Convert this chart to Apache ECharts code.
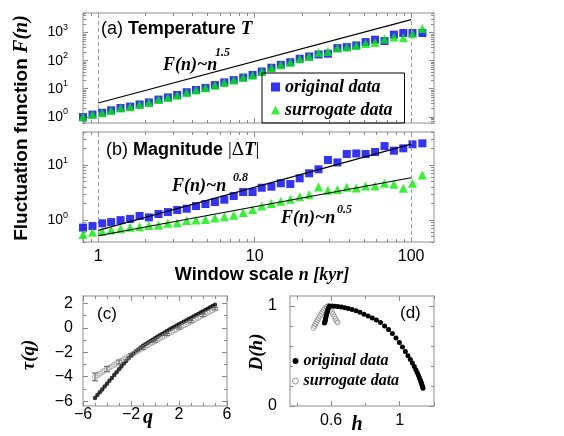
<!DOCTYPE html>
<html>
<head>
<meta charset="utf-8">
<script src="https://cdn.jsdelivr.net/npm/echarts@6.0.0/dist/echarts.min.js"></script>
<style>
html, body { margin: 0; padding: 0; background: #fff; }
#chart { width: 564px; height: 436px; }
</style>
</head>
<body>
<div id="chart"></div>
<script>
// window scale n [kyr] for panels (a) and (b)
const windowN = [0.8, 0.92, 1.06, 1.21, 1.39, 1.6, 1.84, 2.11, 2.43, 2.79,
  3.2, 3.68, 4.22, 4.85, 5.57, 6.4, 7.35, 8.45, 9.7, 11.1,
  12.8, 14.7, 16.9, 19.4, 22.3, 25.6, 29.4, 33.8, 38.8, 44.6,
  51.2, 58.8, 67.6, 77.6, 89.1, 102, 118];
// (a) temperature
const tempOrig = [0.97, 1.2, 1.39, 1.7, 2.05, 2.3, 2.75, 3.25, 4.1, 4.9,
  6.0, 7.5, 9.0, 10.7, 13.5, 16.8, 20.3, 25, 31, 41,
  56, 71, 88, 117, 141, 166, 177, 281, 305, 350,
  460, 560, 500, 850, 970, 970, 970];
const tempSurr = [1.0, 1.22, 1.4, 1.68, 2.05, 2.28, 2.75, 3.2, 4.1, 4.85,
  5.9, 7.4, 9.0, 10.8, 13.3, 16.6, 20.5, 25.5, 30, 41,
  56, 71, 88, 117, 141, 196, 213, 281, 305, 350,
  405, 440, 590, 700, 660, 920, 1390];
// (b) magnitude
const magOrig = [0.73, 0.78, 0.875, 0.92, 1.0, 1.05, 1.19, 1.12, 1.29, 1.4,
  1.53, 1.61, 1.8, 1.96, 2.13, 2.35, 2.74, 3.24, 3.24, 3.88,
  4.05, 4.67, 4.53, 5.75, 7.1, 8.4, 12.4, 11.2, 15.9, 16.3,
  15.9, 17.3, 22.2, 18.3, 20.2, 23.9, 24.9];
const magSurr = [0.55, 0.6, 0.62, 0.66, 0.70, 0.74, 0.76, 0.80, 0.81, 0.875,
  0.90, 0.98, 1.0, 1.03, 1.09, 1.15, 1.22, 1.38, 1.55, 1.8,
  2.0, 2.2, 2.4, 2.65, 2.9, 4.0, 3.5, 3.6, 3.95, 3.84,
  4.17, 4.17, 4.67, 4.47, 3.79, 4.67, 6.6];
// power law guide lines (end points)
const lawA15 = [[1, 3.1], [100, 2900]];
const lawB08 = [[1, 0.65], [100, 24]];
const lawB05 = [[1, 0.52], [100, 5.9]];

// (c) tau(q)
const qVals = [-5.0, -4.8, -4.6, -4.4, -4.2, -4.0, -3.8, -3.6, -3.4, -3.2,
  -3.0, -2.8, -2.6, -2.4, -2.2, -2.0, -1.8, -1.6, -1.4, -1.2,
  -1.0, -0.8, -0.6, -0.4, -0.2, 0.0, 0.2, 0.4, 0.6, 0.8,
  1.0, 1.2, 1.4, 1.6, 1.8, 2.0, 2.2, 2.4, 2.6, 2.8,
  3.0, 3.2, 3.4, 3.6, 3.8, 4.0, 4.2, 4.4, 4.6, 4.8, 5.0];
const tauOrig = [-5.75, -5.51, -5.28, -5.04, -4.81, -4.57, -4.34, -4.10, -3.87, -3.63,
  -3.40, -3.16, -2.93, -2.71, -2.49, -2.29, -2.10, -1.93, -1.77, -1.62,
  -1.48, -1.35, -1.22, -1.10, -0.98, -0.86, -0.74, -0.62, -0.50, -0.38,
  -0.27, -0.15, -0.04, 0.07, 0.18, 0.28, 0.39, 0.49, 0.60, 0.71,
  0.81, 0.92, 1.02, 1.13, 1.24, 1.34, 1.45, 1.56, 1.67, 1.78, 1.89];
const tauSurr = [-4.02, -3.89, -3.76, -3.63, -3.50, -3.38, -3.26, -3.15, -3.03, -2.92,
  -2.80, -2.69, -2.58, -2.47, -2.35, -2.24, -2.12, -2.01, -1.89, -1.78,
  -1.66, -1.55, -1.44, -1.32, -1.21, -1.10, -0.99, -0.88, -0.77, -0.66,
  -0.55, -0.44, -0.34, -0.23, -0.13, -0.02, 0.08, 0.19, 0.29, 0.40,
  0.50, 0.60, 0.71, 0.81, 0.92, 1.02, 1.13, 1.23, 1.34, 1.44, 1.55];
const errQ = [-5, -4, -3, -2, -1, 0, 1, 2, 3, 4, 5];
const errTau = [-4.02, -3.38, -2.80, -2.24, -1.66, -1.10, -0.55, -0.02, 0.50, 1.02, 1.55];
const errSize = [0.32, 0.22, 0.16, 0.12, 0.1, 0.08, 0.08, 0.08, 0.09, 0.1, 0.1];

// (d) D(h)
const hOrig = [0.561, 0.563, 0.565, 0.567, 0.569, 0.572, 0.575, 0.578, 0.581, 0.585,
  0.590, 0.605, 0.622, 0.640, 0.660, 0.680, 0.700, 0.722, 0.745, 0.768,
  0.792, 0.816, 0.840, 0.864, 0.888, 0.912, 0.935, 0.957, 0.978, 0.998,
  1.016, 1.033, 1.048, 1.062, 1.074, 1.085, 1.094, 1.102, 1.109, 1.115,
  1.120, 1.124, 1.128, 1.131, 1.134, 1.136];
const dOrig = [0.83, 0.838, 0.85, 0.865, 0.885, 0.905, 0.925, 0.945, 0.965, 0.985,
  1.0, 1.0, 0.998, 0.995, 0.99, 0.983, 0.975, 0.965, 0.952, 0.937,
  0.918, 0.9, 0.88, 0.86, 0.835, 0.80, 0.765, 0.725, 0.68, 0.635,
  0.59, 0.545, 0.503, 0.465, 0.429, 0.395, 0.363, 0.334, 0.307, 0.283,
  0.261, 0.241, 0.222, 0.205, 0.19, 0.177];
const hSurr = [0.497, 0.503, 0.509, 0.515, 0.521, 0.528, 0.535, 0.542, 0.549, 0.557,
  0.565, 0.573, 0.582, 0.590, 0.597, 0.604, 0.611, 0.618, 0.625, 0.632, 0.638];
const dSurr = [0.78, 0.80, 0.82, 0.84, 0.86, 0.88, 0.90, 0.92, 0.94, 0.96,
  0.975, 0.99, 1.0, 0.99, 0.97, 0.945, 0.92, 0.895, 0.87, 0.85, 0.835];

// ticks and tick labels
const nMajor = [1, 10, 100];
const nMinor = [0.8, 0.9, 2, 3, 4, 5, 6, 7, 8, 9, 20, 30, 40, 50, 60, 70, 80, 90];
const fMajorA = [1, 10, 100, 1000];
const fMinorA = [0.6, 0.7, 0.8, 0.9, 2, 3, 4, 5, 6, 7, 8, 9, 20, 30, 40, 50, 60, 70, 80, 90,
  200, 300, 400, 500, 600, 700, 800, 900, 2000, 3000, 4000, 5000];
const fMajorB = [1, 10];
const fMinorB = [0.4, 0.5, 0.6, 0.7, 0.8, 0.9, 2, 3, 4, 5, 6, 7, 8, 9, 20, 30, 40];
const qMajor = [-6, -2, 2, 6];
const qMinor = [-5, -4, -3, -1, 0, 1, 3, 4, 5];
const tauMajor = [-6, -4, -2, 0, 2];
const tauMinor = [-5, -3, -1, 1];
const hMajor = [0.6, 1];
const hMinor = [0.4, 0.8, 1.2];
const dMajor = [0, 1];
const dMinor = [0.2, 0.4, 0.6, 0.8];

const SANS = 'Liberation Sans';
const SERIF = 'Liberation Serif';
const FRAME = '#b4b4b4';
const TICK = '#8c8c8c';
const BLUE = '#0000f5';
const GREEN = '#00f000';

const zip = (a, b) => a.map((v, i) => [v, b[i]]);
const lg = arr => arr.map(v => Math.log10(v));

var myChart = echarts.init(document.getElementById('chart'));

// hidden axes that carry the data of each panel
let xAxes = [
  { type: 'log', gridIndex: 0, min: 0.8, max: 140, show: false },
  { type: 'log', gridIndex: 1, min: 0.8, max: 140, show: false },
  { type: 'value', gridIndex: 2, min: -6, max: 6, show: false },
  { type: 'value', gridIndex: 3, min: 0.36, max: 1.2, show: false }
];
let yAxes = [
  { type: 'log', gridIndex: 0, min: 0.6, max: 5000, show: false },
  { type: 'log', gridIndex: 1, min: 0.4, max: 40, show: false },
  { type: 'value', gridIndex: 2, min: -6.4, max: 2.6, show: false },
  { type: 'value', gridIndex: 3, min: 0, max: 1.1, show: false }
];

// box frame with inside ticks on all four sides
function frameAxes(dim, gridIndex, min, max, major, minor, labels, label) {
  const sides = dim === 'x' ? ['bottom', 'top'] : ['left', 'right'];
  const list = [];
  sides.forEach((position, i) => {
    list.push({
      type: 'value', gridIndex, position, min, max,
      axisLine: { show: true, onZero: false, lineStyle: { color: FRAME, width: 1.5 } },
      axisTick: { show: true, inside: true, length: 5, customValues: major, lineStyle: { color: TICK } },
      axisLabel: i === 0 && labels
        ? Object.assign({ show: true, customValues: labels, color: '#000', fontFamily: SANS, fontSize: 16 }, label)
        : { show: false },
      splitLine: { show: false }
    });
    list.push({
      type: 'value', gridIndex, position, min, max,
      axisLine: { show: false, onZero: false },
      axisTick: { show: true, inside: true, length: 3, customValues: minor, lineStyle: { color: TICK } },
      axisLabel: { show: false },
      splitLine: { show: false }
    });
  });
  return list;
}

const powLabel = {
  margin: 15,
  formatter: v => '{b|10}{s|' + Math.round(v) + '}',
  rich: {
    b: { fontFamily: SANS, fontSize: 14, color: '#000' },
    s: { fontFamily: SANS, fontSize: 9, color: '#000', padding: [0, 0, 10, 0] }
  }
};
const minus = v => String(v).replace('-', '\u2212');

xAxes = xAxes.concat(
  frameAxes('x', 0, Math.log10(0.8), Math.log10(140), lg(nMajor), lg(nMinor), null),
  frameAxes('x', 1, Math.log10(0.8), Math.log10(140), lg(nMajor), lg(nMinor), lg(nMajor),
    { margin: 7, formatter: v => String(Math.round(Math.pow(10, v))) }),
  frameAxes('x', 2, -6, 6, qMajor, qMinor, qMajor, { margin: 1, formatter: minus }),
  frameAxes('x', 3, 0.36, 1.2, hMajor, hMinor, hMajor, { margin: 7, formatter: v => String(v) })
);
yAxes = yAxes.concat(
  frameAxes('y', 0, Math.log10(0.6), Math.log10(5000), lg(fMajorA), lg(fMinorA), lg(fMajorA), powLabel),
  frameAxes('y', 1, Math.log10(0.4), Math.log10(40), lg(fMajorB), lg(fMinorB), lg(fMajorB), powLabel),
  frameAxes('y', 2, -6.4, 2.6, tauMajor, tauMinor, tauMajor, { margin: 10, formatter: minus }),
  frameAxes('y', 3, 0, 1.1, dMajor, dMinor, dMajor, { margin: 13, formatter: v => String(v) })
);

const dashed = {
  silent: true,
  symbol: ['none', 'none'],
  label: { show: false },
  lineStyle: { type: [4, 3], color: '#999', width: 1 },
  data: [{ xAxis: 1 }, { xAxis: 100 }]
};
const lawStyle = { color: '#000', width: 1.2 };

function txt(x, y, text, rich, extra) {
  return Object.assign({
    type: 'text', x, y, silent: true,
    style: { text, rich, fill: '#000', align: 'left', verticalAlign: 'middle' }
  }, extra || {});
}
const sansR = { fontFamily: SANS, fontSize: 18, fill: '#000' };
const sansB = { fontFamily: SANS, fontSize: 18, fontWeight: 'bold', fill: '#000' };
const serBI = { fontFamily: SERIF, fontSize: 19, fontWeight: 'bold', fontStyle: 'italic', fill: '#000' };
const serR = { fontFamily: SERIF, fontSize: 19, fill: '#000' };
const law = { fontFamily: SERIF, fontSize: 18, fontWeight: 'bold', fontStyle: 'italic', fill: '#000' };
const sup = { fontFamily: SERIF, fontSize: 12, fontWeight: 'bold', fontStyle: 'italic', fill: '#000' };

let option = {
  animation: false,
  backgroundColor: '#fff',
  grid: [
    { left: 83, top: 13, width: 351, height: 110 },
    { left: 83, top: 132, width: 351, height: 110 },
    { left: 83, top: 296, width: 144, height: 110 },
    { left: 290, top: 296, width: 144, height: 110 }
  ],
  xAxis: xAxes,
  yAxis: yAxes,
  legend: [
    {
      left: 262, top: 73, orient: 'vertical', selectedMode: false,
      data: [{ name: 'original data', icon: 'rect' }, { name: 'surrogate data', icon: 'triangle' }],
      borderColor: '#000', borderWidth: 1, padding: [4, 12, 3, 9], itemGap: 3,
      itemWidth: 9, itemHeight: 9,
      textStyle: { fontFamily: SERIF, fontStyle: 'italic', fontWeight: 'bold', fontSize: 18, lineHeight: 20, color: '#000' }
    },
    {
      left: 292, top: 352, orient: 'vertical', selectedMode: false, padding: 0, itemGap: 2,
      itemWidth: 6, itemHeight: 6,
      data: [
        { name: 'original D', icon: 'circle', itemStyle: { color: '#000' } },
        { name: 'surrogate D', icon: 'circle', itemStyle: { color: '#fff', borderColor: '#808080', borderWidth: 1 } }
      ],
      formatter: n => n.indexOf('original') === 0 ? 'original data' : 'surrogate data',
      textStyle: { fontFamily: SERIF, fontStyle: 'italic', fontWeight: 'bold', fontSize: 16, lineHeight: 18, color: '#000' }
    }
  ],
  series: [
    // (a)
    { name: 'original data', type: 'scatter', xAxisIndex: 0, yAxisIndex: 0, data: zip(windowN, tempOrig),
      symbol: 'rect', symbolSize: 8, itemStyle: { color: BLUE }, markLine: dashed },
    { name: 'surrogate data', type: 'scatter', xAxisIndex: 0, yAxisIndex: 0, data: zip(windowN, tempSurr),
      symbol: 'triangle', symbolSize: 9, itemStyle: { color: GREEN } },
    { name: 'law a', type: 'line', xAxisIndex: 0, yAxisIndex: 0, data: lawA15, showSymbol: false, lineStyle: lawStyle },
    // (b)
    { name: 'original b', type: 'scatter', xAxisIndex: 1, yAxisIndex: 1, data: zip(windowN, magOrig),
      symbol: 'rect', symbolSize: 8, itemStyle: { color: BLUE }, markLine: dashed },
    { name: 'surrogate b', type: 'scatter', xAxisIndex: 1, yAxisIndex: 1, data: zip(windowN, magSurr),
      symbol: 'triangle', symbolSize: 9, itemStyle: { color: GREEN } },
    { name: 'law b08', type: 'line', xAxisIndex: 1, yAxisIndex: 1, data: lawB08, showSymbol: false, lineStyle: lawStyle },
    { name: 'law b05', type: 'line', xAxisIndex: 1, yAxisIndex: 1, data: lawB05, showSymbol: false, lineStyle: lawStyle },
    // (c)
    { name: 'original c', type: 'scatter', xAxisIndex: 2, yAxisIndex: 2, data: zip(qVals, tauOrig),
      symbol: 'circle', symbolSize: 4.5, itemStyle: { color: '#000' } },
    { name: 'surrogate c', type: 'scatter', xAxisIndex: 2, yAxisIndex: 2, data: zip(qVals, tauSurr),
      symbol: 'circle', symbolSize: 5, itemStyle: { color: 'rgba(255,255,255,0)', borderColor: '#8a8a8a', borderWidth: 0.8 } },
    { name: 'error c', type: 'custom', xAxisIndex: 2, yAxisIndex: 2,
      data: errQ.map((q, i) => [q, errTau[i], errSize[i]]),
      renderItem: function (params, api) {
        const q = api.value(0), m = api.value(1), e = api.value(2);
        const top = api.coord([q, m + e]);
        const bot = api.coord([q, m - e]);
        const w = 3;
        const st = { stroke: '#555', lineWidth: 1 };
        return {
          type: 'group',
          children: [
            { type: 'line', shape: { x1: top[0], y1: top[1], x2: bot[0], y2: bot[1] }, style: st },
            { type: 'line', shape: { x1: top[0] - w, y1: top[1], x2: top[0] + w, y2: top[1] }, style: st },
            { type: 'line', shape: { x1: bot[0] - w, y1: bot[1], x2: bot[0] + w, y2: bot[1] }, style: st }
          ]
        };
      }
    },
    // (d)
    { name: 'original D', type: 'line', xAxisIndex: 3, yAxisIndex: 3, data: zip(hOrig, dOrig),
      symbol: 'circle', symbolSize: 5, showSymbol: true, itemStyle: { color: '#000' },
      lineStyle: { color: '#999', width: 0.8 } },
    { name: 'surrogate D', type: 'scatter', xAxisIndex: 3, yAxisIndex: 3, data: zip(hSurr, dSurr),
      symbol: 'circle', symbolSize: 5, itemStyle: { color: 'rgba(255,255,255,0)', borderColor: '#808080', borderWidth: 0.8 } }
  ],
  graphic: {
    elements: [
      txt(101, 29, '{r|(a) }{b|Temperature }{i|T}', { r: sansR, b: sansB, i: serBI }),
      txt(106, 150, '{r|(b) }{b|Magnitude }{s||\u0394}{i|T}{s||}', { r: sansR, b: sansB, i: serBI, s: serR }),
      txt(163, 65, '{a|F(n)~n}', { a: law }),
      txt(215, 53, '{a|1.5}', { a: sup }),
      txt(172, 186, '{a|F(n)~n}', { a: law }),
      txt(233, 178, '{a|0.8}', { a: sup }),
      txt(281, 218, '{a|F(n)~n}', { a: law }),
      txt(337, 210, '{a|0.5}', { a: sup }),
      txt(22, 128, '{b|Fluctuation function }{i|F(n)}',
        { b: { fontFamily: SANS, fontSize: 19, fontWeight: 'bold', fill: '#000' },
          i: { fontFamily: SERIF, fontSize: 20, fontWeight: 'bold', fontStyle: 'italic', fill: '#000' } },
        { rotation: Math.PI / 2 }),
      txt(262, 275, '{b|Window scale }{i|n [kyr]}', { b: sansB, i: { fontFamily: SERIF, fontSize: 18, fontWeight: 'bold', fontStyle: 'italic', fill: '#000' } }),
      txt(97, 314, '{r|(c)}', { r: { fontFamily: SANS, fontSize: 17, fill: '#000' } }),
      txt(400, 313, '{r|(d)}', { r: { fontFamily: SANS, fontSize: 17, fill: '#000' } }),
      txt(29, 355, '{i|\u03c4(q)}', { i: serBI }, { rotation: Math.PI / 2 }),
      txt(257, 352, '{i|D(h)}', { i: serBI }, { rotation: Math.PI / 2 }),
      txt(148, 418, '{i|q}', { i: { fontFamily: SERIF, fontSize: 20, fontWeight: 'bold', fontStyle: 'italic', fill: '#000' } }),
      txt(357, 425, '{i|h}', { i: { fontFamily: SERIF, fontSize: 20, fontWeight: 'bold', fontStyle: 'italic', fill: '#000' } })
    ]
  }
};
// center the rotated and axis titles
option.graphic.elements.forEach(el => {
  if (el.rotation || el.style.text.indexOf('Window') >= 0 || el.style.text === '{i|q}' || el.style.text === '{i|h}') {
    el.style.align = 'center';
  }
});

myChart.setOption(option);
</script>
</body>
</html>
